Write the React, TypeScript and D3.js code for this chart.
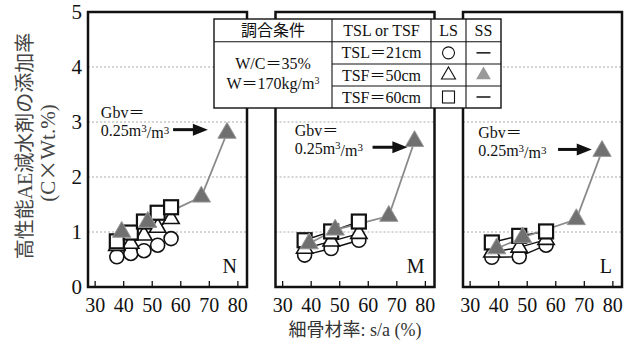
import * as d3 from "d3";
import { useEffect, useRef } from "react";

const panelNames = ["N", "M", "L"];
const xTicks = [30, 40, 50, 60, 70, 80];
const yTicks = [0, 1, 2, 3, 4, 5];
const gridTicks = [1, 2, 3, 4];

// LS (s/a, %) per panel
const lsX = [
	[37.6, 42.5, 47.1, 51.9, 56.6],
	[37.7, 47.0, 56.7],
	[37.6, 47.2, 56.6],
];
const tsl21 = [
	[0.55, 0.61, 0.66, 0.76, 0.88],
	[0.58, 0.7, 0.85],
	[0.54, 0.55, 0.76],
];
const tsf50 = [
	[0.75, 0.79, 0.94, 1.08, 1.24],
	[0.7, 0.83, 0.97],
	[0.63, 0.72, 0.86],
];
const tsf60 = [
	[0.83, 0.99, 1.19, 1.35, 1.45],
	[0.85, 1.01, 1.19],
	[0.81, 0.93, 1.01],
];
// SS, TSF=50cm
const ssX = [39.3, 48.4, 67.2, 76.2];
const ssTsf50 = [
	[1.0, 1.18, 1.64, 2.8],
	[0.79, 1.04, 1.29, 2.65],
	[0.7, 0.9, 1.23, 2.47],
];

// Gbv annotation anchors (data units)
const gbvTextX = [32, 34.2, 32.8];
const gbvTextY = [3.17, 2.85, 2.81];
const arrowFrom = [57.3, 61.5, 60.8];
const arrowTo = [69.5, 73.7, 72.6];

const tableHead = ["調合条件", "TSL or TSF", "LS", "SS"];
const tableRows = ["TSL＝21cm", "TSF＝50cm", "TSF＝60cm"];

const SERIF = "'Liberation Serif', serif";
const FONT = "'Liberation Serif', 'Noto Sans CJK JP', serif";
const CJK = "'Noto Sans CJK JP', sans-serif";
const GRAY = "#707070";

function App() {
	const ref = useRef(null);

	useEffect(() => {
		const svg = d3.select(ref.current);
		svg.selectAll("*").remove();

		const width = 635;
		const height = 340;
		const top = 12;
		const bottom = 287;
		const panelW = 159;
		const panelLeft = (i) => 88 + i * 187.5;

		const y = d3.scaleLinear().domain([0, 5]).range([bottom, top]);
		const x = d3.scaleLinear().domain([27.5, 83.2]).range([0, panelW]);

		svg.attr("width", width).attr("height", height).style("font-family", FONT);
		svg.append("rect").attr("width", width).attr("height", height).attr("fill", "#fff");

		// y tick labels
		svg.append("g").selectAll("text").data(yTicks).join("text")
			.attr("x", 82).attr("y", d => y(d)).attr("dy", "0.35em")
			.attr("text-anchor", "end").attr("font-size", 21).attr("fill", "#111")
			.text(d => d);

		// y title
		const yt = svg.append("g").attr("fill", "#444").attr("text-anchor", "middle");
		const y1 = yt.append("text").attr("transform", "translate(25,146) rotate(-90)").attr("dy", "0.35em")
			.attr("font-size", 20);
		y1.append("tspan").style("font-family", CJK).text("高性能");
		y1.append("tspan").style("font-family", SERIF).text("AE");
		y1.append("tspan").style("font-family", CJK).text("減水剤の添加率");
		const y2 = yt.append("text").attr("transform", "translate(48,153) rotate(-90)").attr("dy", "0.35em")
			.attr("font-size", 21);
		y2.append("tspan").style("font-family", SERIF).text("(C");
		y2.append("tspan").style("font-family", CJK).text("×");
		y2.append("tspan").style("font-family", SERIF).text("Wt.%)");

		// x title
		const xt = svg.append("text").attr("x", 355).attr("y", 330).attr("dy", "0.35em")
			.attr("text-anchor", "middle").attr("font-size", 18).attr("fill", "#333");
		xt.append("tspan").style("font-family", CJK).text("細骨材率");
		xt.append("tspan").style("font-family", SERIF).text(": s/a (%)");

		const line = d3.line().x(d => x(d[0])).y(d => y(d[1]));

		panelNames.forEach((name, i) => {
			const g = svg.append("g").attr("transform", `translate(${panelLeft(i)},0)`);

			// grid
			g.append("g").selectAll("line").data(gridTicks).join("line")
				.attr("x1", 0).attr("x2", panelW).attr("y1", d => y(d)).attr("y2", d => y(d))
				.attr("stroke", "#aaa").attr("stroke-width", 1).attr("stroke-dasharray", "2,2");

			// x ticks (inward)
			g.append("g").selectAll("line").data(xTicks).join("line")
				.attr("x1", d => x(d)).attr("x2", d => x(d)).attr("y1", bottom).attr("y2", bottom - 6)
				.attr("stroke", "#111").attr("stroke-width", 1.3);
			g.append("g").selectAll("text").data(xTicks).join("text")
				.attr("x", d => x(d)).attr("y", 305).attr("dy", "0.35em")
				.attr("text-anchor", "middle").attr("font-size", 20).attr("fill", "#111")
				.text(d => d);

			// frame
			g.append("rect").attr("x", 0).attr("y", top).attr("width", panelW).attr("height", bottom - top)
				.attr("fill", "none").attr("stroke", "#111").attr("stroke-width", 2.5);

			const lsSeries = [tsl21[i], tsf50[i], tsf60[i]].map(vals => vals.map((v, k) => [lsX[i][k], v]));
			const ssSeries = ssTsf50[i].map((v, k) => [ssX[k], v]);

			lsSeries.forEach(pts => {
				g.append("path").datum(pts).attr("d", line).attr("fill", "none")
					.attr("stroke", "#111").attr("stroke-width", 1.4);
			});
			g.append("path").datum(ssSeries).attr("d", line).attr("fill", "none")
				.attr("stroke", "#8a8a8a").attr("stroke-width", 1.8);

			// circles
			g.append("g").selectAll("circle").data(lsSeries[0]).join("circle")
				.attr("cx", d => x(d[0])).attr("cy", d => y(d[1])).attr("r", 7)
				.attr("fill", "#fff").attr("stroke", "#111").attr("stroke-width", 1.6);
			// open triangles
			g.append("g").selectAll("path").data(lsSeries[1]).join("path")
				.attr("transform", d => `translate(${x(d[0])},${y(d[1])})`)
				.attr("d", d3.symbol(d3.symbolTriangle, 115)())
				.attr("fill", "#fff").attr("stroke", "#111").attr("stroke-width", 1.6);
			// squares
			g.append("g").selectAll("rect").data(lsSeries[2]).join("rect")
				.attr("x", d => x(d[0]) - 7).attr("y", d => y(d[1]) - 7)
				.attr("width", 14).attr("height", 14)
				.attr("fill", "#fff").attr("stroke", "#111").attr("stroke-width", 2.2);
			// gray triangles
			g.append("g").selectAll("path").data(ssSeries).join("path")
				.attr("transform", d => `translate(${x(d[0])},${y(d[1])})`)
				.attr("d", d3.symbol(d3.symbolTriangle, 145)())
				.attr("fill", GRAY).attr("stroke", "#999").attr("stroke-width", 1);

			// panel label
			g.append("text").attr("x", panelW - 10).attr("y", 266).attr("dy", "0.35em")
				.attr("text-anchor", "end").attr("font-size", 20).attr("fill", "#111").text(name);

			// Gbv annotation
			const ty = y(gbvTextY[i]);
			const lh = 18;
			g.append("text").attr("font-size", 16).attr("fill", "#111")
				.attr("x", x(gbvTextX[i])).attr("y", ty).attr("dy", "0.35em").text("Gbv＝");
			const l2 = g.append("text").attr("font-size", 16).attr("fill", "#111")
				.attr("x", x(gbvTextX[i])).attr("y", ty + lh).attr("dy", "0.35em");
			l2.append("tspan").text("0.25m");
			l2.append("tspan").attr("font-size", 11).attr("dy", "-0.4em").text("3");
			l2.append("tspan").attr("dy", "0.4em").text("/m");
			l2.append("tspan").attr("font-size", 11).attr("dy", "-0.4em").text("3");

			const ay = ty + lh - 1;
			const ax1 = x(arrowFrom[i]);
			const ax2 = x(arrowTo[i]);
			g.append("line").attr("x1", ax1).attr("x2", ax2 - 12).attr("y1", ay).attr("y2", ay)
				.attr("stroke", "#111").attr("stroke-width", 3);
			g.append("path").attr("d", `M${ax2 - 15},${ay - 6}L${ax2},${ay}L${ax2 - 15},${ay + 6}Z`)
				.attr("fill", "#111");
		});

		// table
		const cols = [214, 332, 431, 466, 501];
		const rows = [19, 41.7, 64, 86, 108];
		const t = svg.append("g");
		t.append("rect").attr("x", cols[0]).attr("y", rows[0]).attr("width", cols[4] - cols[0])
			.attr("height", rows[4] - rows[0]).attr("fill", "#fff").attr("stroke", "#111").attr("stroke-width", 1.4);
		cols.slice(1, 4).forEach(cx => {
			t.append("line").attr("x1", cx).attr("x2", cx).attr("y1", rows[0]).attr("y2", rows[4])
				.attr("stroke", "#111").attr("stroke-width", 1.1);
		});
		t.append("line").attr("x1", cols[0]).attr("x2", cols[4]).attr("y1", rows[1]).attr("y2", rows[1])
			.attr("stroke", "#111").attr("stroke-width", 1.1);
		rows.slice(2, 4).forEach(ry => {
			t.append("line").attr("x1", cols[1]).attr("x2", cols[4]).attr("y1", ry).attr("y2", ry)
				.attr("stroke", "#111").attr("stroke-width", 1.1);
		});

		tableHead.forEach((h, k) => {
			t.append("text").attr("x", (cols[k] + cols[k + 1]) / 2).attr("y", (rows[0] + rows[1]) / 2)
				.attr("dy", "0.35em").attr("text-anchor", "middle").attr("font-size", 16)
				.attr("fill", "#111").text(h);
		});
		tableRows.forEach((r, k) => {
			t.append("text").attr("x", (cols[1] + cols[2]) / 2).attr("y", (rows[k + 1] + rows[k + 2]) / 2)
				.attr("dy", "0.35em").attr("text-anchor", "middle").attr("font-size", 16)
				.attr("fill", "#111").text(r);
		});
		const c1 = (cols[0] + cols[1]) / 2;
		t.append("text").attr("x", c1).attr("y", 63).attr("dy", "0.35em").attr("text-anchor", "middle")
			.attr("font-size", 16).attr("fill", "#111").text("W/C＝35%");
		const wt = t.append("text").attr("x", c1).attr("y", 83).attr("dy", "0.35em").attr("text-anchor", "middle")
			.attr("font-size", 16).attr("fill", "#111");
		wt.append("tspan").text("W＝170kg/m");
		wt.append("tspan").attr("font-size", 10).attr("dy", "-0.45em").text("3");

		// legend symbols
		const lsC = (cols[2] + cols[3]) / 2;
		const ssC = (cols[3] + cols[4]) / 2;
		const rc = k => (rows[k + 1] + rows[k + 2]) / 2;
		t.append("circle").attr("cx", lsC).attr("cy", rc(0)).attr("r", 6)
			.attr("fill", "#fff").attr("stroke", "#111").attr("stroke-width", 1.1);
		t.append("path").attr("transform", `translate(${lsC},${rc(1)})`)
			.attr("d", d3.symbol(d3.symbolTriangle, 85)())
			.attr("fill", "#fff").attr("stroke", "#111").attr("stroke-width", 1.1);
		t.append("rect").attr("x", lsC - 6).attr("y", rc(2) - 6).attr("width", 12).attr("height", 12)
			.attr("fill", "#fff").attr("stroke", "#111").attr("stroke-width", 1.1);
		[0, 2].forEach(k => {
			t.append("line").attr("x1", ssC - 7).attr("x2", ssC + 7).attr("y1", rc(k)).attr("y2", rc(k))
				.attr("stroke", "#111").attr("stroke-width", 1.5);
		});
		t.append("path").attr("transform", `translate(${ssC},${rc(1)})`)
			.attr("d", d3.symbol(d3.symbolTriangle, 95)())
			.attr("fill", "#999");
	}, []);

	return <svg ref={ref} style={{ position: "absolute", left: 0, top: 0 }}></svg>;
}

export default App;
